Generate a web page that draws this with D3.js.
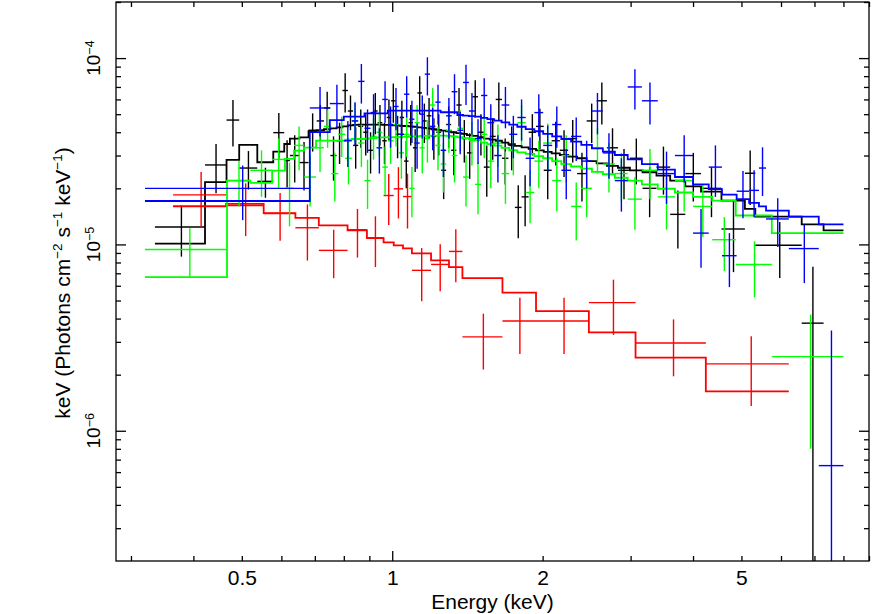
<!DOCTYPE html>
<html>
<head>
<meta charset="utf-8">
<script src="https://cdn.jsdelivr.net/npm/d3@7"></script>
<style>
  body { margin: 0; background: #fff; }
  text { font-family: "Liberation Sans", Arial, Helvetica, sans-serif; fill: #000; }
</style>
</head>
<body>
<svg id="chart" width="872" height="614"></svg>
<script>
// flux values are in units of 1e-5 keV (Photons cm^-2 s^-1 keV^-1)
var UNIT = 1e-5;

// bin edges (keV), data, 1-sigma error and folded model for each data group
var blackEdges = [0.335, 0.422, 0.466, 0.494, 0.537, 0.578, 0.608, 0.624, 0.652, 0.680, 0.706, 0.730, 0.752, 0.774, 0.795, 0.815, 0.835, 0.855, 0.875, 0.895, 0.915, 0.935, 0.955, 0.975, 0.995, 1.015, 1.035, 1.056, 1.078, 1.100, 1.123, 1.147, 1.172, 1.198, 1.225, 1.253, 1.282, 1.312, 1.344, 1.377, 1.411, 1.447, 1.485, 1.525, 1.567, 1.611, 1.658, 1.708, 1.760, 1.815, 1.875, 1.940, 2.010, 2.085, 2.165, 2.250, 2.345, 2.450, 2.565, 2.690, 2.830, 2.990, 3.170, 3.380, 3.600, 3.860, 4.150, 4.560, 5.080, 5.330, 6.600, 7.300, 8.000];
var blackFlux = [1.24, 2.67, 4.65, 2.57, 2.18, 3.98, 2.82, 3.0, 2.75, 4.1, 4.6, 5.4, 3.0, 3.6, 6.7, 5.2, 3.4, 4.3, 4.0, 3.2, 5.2, 4.5, 3.6, 4.8, 5.9, 3.9, 4.8, 2.8, 4.5, 3.3, 6.5, 4.6, 4.9, 3.8, 4.0, 2.5, 4.4, 3.2, 5.6, 3.7, 3.1, 6.2, 4.0, 2.6, 3.8, 6.0, 2.9, 3.4, 1.58, 1.8, 4.0, 4.3, 2.5, 3.6, 3.2, 3.7, 2.4, 4.6, 5.9, 3.3, 2.5, 2.9, 2.0, 2.6, 1.45, 2.4, 2.0, 1.21, 2.41, 0.99, 0.378, null];
var blackErr = [0.38, 0.79, 1.3, 0.6, 0.4, 1.1, 0.8, 0.85, 0.8, 0.95, 1.0, 1.2, 0.8, 0.9, 1.6, 1.1, 0.85, 1.0, 1.0, 0.8, 1.3, 1.1, 0.9, 1.2, 1.4, 1.0, 1.1, 0.8, 1.1, 0.85, 1.5, 1.1, 1.2, 0.95, 1.0, 0.75, 1.1, 0.85, 1.3, 0.95, 0.85, 1.4, 1.0, 0.8, 0.95, 1.4, 0.8, 0.9, 0.5, 0.55, 1.0, 1.05, 0.75, 0.95, 0.9, 0.95, 0.7, 1.1, 1.5, 0.9, 0.75, 0.8, 0.6, 0.75, 0.5, 0.7, 0.6, 0.5, 0.78, 0.33, 0.38, null];
var blackModel = [1.01, 2.16, 2.84, 3.42, 2.76, 3.15, 3.46, 3.70, 3.75, 4.05, 4.10, 4.15, 4.20, 4.25, 4.30, 4.35, 4.38, 4.40, 4.40, 4.40, 4.40, 4.40, 4.38, 4.38, 4.36, 4.35, 4.33, 4.32, 4.30, 4.28, 4.25, 4.22, 4.20, 4.15, 4.12, 4.08, 4.05, 4.00, 3.96, 3.92, 3.86, 3.82, 3.76, 3.70, 3.65, 3.60, 3.52, 3.45, 3.38, 3.32, 3.26, 3.20, 3.14, 3.08, 3.02, 2.96, 2.90, 2.80, 2.72, 2.64, 2.58, 2.50, 2.44, 2.34, 2.20, 2.05, 1.92, 1.72, 1.55, 1.41, 1.28, 1.19];

var redEdges = [0.364, 0.465, 0.553, 0.640, 0.713, 0.814, 0.890, 0.961, 1.007, 1.051, 1.095, 1.196, 1.299, 1.382, 1.662, 1.940, 2.475, 3.069, 4.243, 6.218];
var redFlux = [1.845, 1.618, 1.466, 1.229, 0.929, 1.2, 1.086, 1.83, 1.988, 1.807, 0.726, 0.781, 0.917, 0.319, 0.388, 0.388, 0.487, 0.296, 0.2286];
var redErr = [0.6, 0.51, 0.42, 0.41, 0.27, 0.35, 0.33, 0.56, 0.61, 0.59, 0.23, 0.22, 0.29, 0.106, 0.13, 0.13, 0.16, 0.10, 0.093];
var redModel = [1.603, 1.652, 1.472, 1.390, 1.264, 1.189, 1.081, 1.025, 0.988, 0.952, 0.895, 0.821, 0.756, 0.660, 0.551, 0.439, 0.337, 0.247, 0.1626];

var greenEdges = [0.320, 0.467, 0.520, 0.575, 0.610, 0.636, 0.666, 0.704, 0.730, 0.755, 0.780, 0.805, 0.830, 0.855, 0.880, 0.905, 0.930, 0.955, 0.980, 1.005, 1.030, 1.056, 1.082, 1.108, 1.135, 1.162, 1.190, 1.220, 1.250, 1.282, 1.315, 1.350, 1.386, 1.424, 1.464, 1.506, 1.550, 1.600, 1.655, 1.715, 1.780, 1.850, 1.925, 2.005, 2.090, 2.180, 2.280, 2.390, 2.510, 2.640, 2.790, 2.960, 3.160, 3.400, 3.680, 4.000, 4.370, 4.870, 5.750, 8.000];
var greenFlux = [0.94, 2.2, 2.5, 2.86, 2.0, 3.4, 2.3, 3.3, 4.3, 2.4, 3.9, 2.9, 4.6, 3.5, 2.2, 3.8, 4.0, 2.6, 3.6, 4.4, 3.1, 3.9, 2.0, 4.5, 3.3, 3.7, 5.6, 3.4, 2.7, 4.1, 3.0, 4.2, 2.3, 3.6, 2.1, 3.9, 2.8, 3.5, 2.4, 3.2, 4.5, 1.9, 2.8, 3.5, 2.2, 3.0, 1.6, 2.0, 3.3, 2.7, 2.4, 1.75, 2.5, 1.8, 2.2, 1.6, 1.06, 0.78, 0.25];
var greenErr = [0.28, 0.6, 0.7, 0.85, 0.75, 0.9, 0.7, 0.85, 1.0, 0.7, 0.95, 0.8, 1.1, 0.9, 0.65, 0.95, 1.0, 0.75, 0.9, 1.05, 0.85, 0.95, 0.6, 1.1, 0.9, 0.95, 1.3, 0.9, 0.8, 1.0, 0.85, 1.05, 0.7, 0.95, 0.65, 1.0, 0.8, 0.9, 0.75, 0.85, 1.1, 0.6, 0.8, 0.95, 0.7, 0.85, 0.55, 0.6, 0.9, 0.8, 0.7, 0.55, 0.75, 0.6, 0.7, 0.5, 0.34, 0.26, 0.17];
var greenModel = [0.668, 2.20, 2.14, 2.49, 2.88, 3.19, 3.31, 3.61, 3.61, 3.61, 3.61, 3.65, 3.68, 3.68, 3.70, 3.72, 3.75, 3.75, 3.76, 3.76, 3.78, 3.78, 3.80, 3.80, 3.82, 3.82, 3.84, 3.84, 3.84, 3.82, 3.80, 3.76, 3.72, 3.68, 3.62, 3.52, 3.45, 3.39, 3.30, 3.20, 3.12, 3.06, 2.98, 2.90, 2.80, 2.70, 2.62, 2.55, 2.45, 2.38, 2.28, 2.20, 2.10, 1.99, 1.90, 1.80, 1.72, 1.43, 1.15];

var blueEdges = [0.320, 0.684, 0.750, 0.800, 0.830, 0.855, 0.880, 0.905, 0.930, 0.955, 0.980, 1.005, 1.030, 1.056, 1.082, 1.108, 1.135, 1.162, 1.190, 1.220, 1.250, 1.282, 1.315, 1.350, 1.386, 1.424, 1.464, 1.506, 1.550, 1.600, 1.655, 1.715, 1.780, 1.850, 1.925, 2.005, 2.090, 2.180, 2.280, 2.390, 2.510, 2.640, 2.790, 2.960, 3.160, 3.400, 3.680, 4.000, 4.300, 4.570, 4.890, 5.180, 5.420, 5.600, 6.220, 7.140, 8.000];
var blueFlux = [2.0, 5.4, 5.7, 3.6, 4.6, 7.5, 4.2, 5.1, 3.3, 6.0, 4.4, 5.5, 3.9, 6.4, 4.7, 3.5, 5.0, 8.2, 4.3, 5.8, 3.2, 4.9, 6.6, 4.1, 7.4, 5.2, 3.7, 6.3, 4.5, 3.0, 5.6, 3.9, 4.8, 2.9, 5.1, 3.4, 4.4, 2.5, 3.8, 2.8, 5.2, 3.1, 2.2, 7.0, 5.9, 2.4, 3.0, 1.15, 2.6, 0.87, 1.93, 1.95, 2.57, 1.37, 0.95, 0.065];
var blueErr = [0.65, 1.6, 1.5, 1.0, 1.2, 1.8, 1.1, 1.3, 0.9, 1.5, 1.1, 1.4, 1.0, 1.6, 1.2, 0.95, 1.3, 1.9, 1.1, 1.4, 0.9, 1.2, 1.6, 1.05, 1.8, 1.3, 1.0, 1.5, 1.15, 0.85, 1.4, 1.0, 1.2, 0.85, 1.3, 0.95, 1.1, 0.75, 1.0, 0.8, 1.3, 0.85, 0.7, 1.7, 1.5, 0.75, 0.85, 0.4, 0.8, 0.28, 0.55, 0.55, 0.75, 0.4, 0.33, 0.28];
var blueModel = [1.71, 4.01, 4.65, 4.85, 4.85, 4.85, 5.05, 5.05, 5.05, 5.05, 5.22, 5.22, 5.22, 5.22, 5.22, 5.22, 5.22, 5.22, 5.22, 5.22, 5.12, 5.12, 5.12, 4.95, 4.91, 4.88, 4.85, 4.78, 4.70, 4.62, 4.52, 4.40, 4.28, 4.16, 4.05, 3.92, 3.80, 3.68, 3.56, 3.42, 3.28, 3.15, 3.02, 2.86, 2.70, 2.52, 2.30, 2.10, 1.98, 1.85, 1.75, 1.67, 1.60, 1.52, 1.41, 1.28];

// axis ticks
var xTicks = [0.3, 0.4, 0.5, 0.6, 0.7, 0.8, 0.9, 1, 2, 3, 4, 5, 6, 7, 8, 9];
var xLabels = [0.5, 1, 2, 5];
var yTicks = [3e-7, 4e-7, 5e-7, 6e-7, 7e-7, 8e-7, 9e-7, 1e-6, 2e-6, 3e-6, 4e-6, 5e-6, 6e-6, 7e-6, 8e-6, 9e-6,
              1e-5, 2e-5, 3e-5, 4e-5, 5e-5, 6e-5, 7e-5, 8e-5, 9e-5, 1e-4, 2e-4];
var yDecades = [-6, -5, -4];

var groups = [
  { color: "#000000", edges: blackEdges, flux: blackFlux, err: blackErr, model: blackModel },
  { color: "#ff0000", edges: redEdges, flux: redFlux, err: redErr, model: redModel },
  { color: "#00ff00", edges: greenEdges, flux: greenFlux, err: greenErr, model: greenModel },
  { color: "#0000ff", edges: blueEdges, flux: blueFlux, err: blueErr, model: blueModel }
];

var plotLeft = 116, plotRight = 869, plotTop = 2, plotBottom = 561;
var yMin = 2e-7, yMax = 2e-4;

var svg = d3.select("#chart");

var x = d3.scaleLog().domain([0.28, 9]).range([plotLeft, plotRight]);
var y = d3.scaleLog().domain([yMin, yMax]).range([plotBottom, plotTop]);

svg.append("defs").append("clipPath")
  .attr("id", "plotclip")
  .append("rect")
  .attr("x", plotLeft).attr("y", plotTop)
  .attr("width", plotRight - plotLeft).attr("height", plotBottom - plotTop);

var plot = svg.append("g").attr("clip-path", "url(#plotclip)");

function isDecade(d) {
  var l = Math.log10(d);
  return Math.abs(l - Math.round(l)) < 1e-9;
}

groups.forEach(function(g) {
  var layer = plot.append("g");
  var n = g.edges.length - 1;

  // error crosses
  for (var i = 0; i < n; i++) {
    var f = g.flux[i];
    if (f == null) continue;
    var lo = g.edges[i], hi = g.edges[i + 1];
    var mid = (lo + hi) / 2;
    var e = g.err[i];
    var fLow = Math.max((f - e) * UNIT, yMin / 2);
    layer.append("line")
      .attr("x1", x(lo)).attr("x2", x(hi))
      .attr("y1", y(f * UNIT)).attr("y2", y(f * UNIT))
      .attr("stroke", g.color).attr("stroke-width", 1.4);
    layer.append("line")
      .attr("x1", x(mid)).attr("x2", x(mid))
      .attr("y1", y((f + e) * UNIT)).attr("y2", y(fLow))
      .attr("stroke", g.color).attr("stroke-width", 1.4);
  }

  // folded model as a step line
  var pts = [];
  for (var j = 0; j < n; j++) {
    pts.push([g.edges[j], g.model[j]]);
    pts.push([g.edges[j + 1], g.model[j]]);
  }
  var step = d3.line()
    .x(function(p) { return x(p[0]); })
    .y(function(p) { return y(p[1] * UNIT); });
  layer.append("path")
    .attr("d", step(pts))
    .attr("fill", "none")
    .attr("stroke", g.color)
    .attr("stroke-width", 1.8);
});

// axes with inward ticks on all four sides
function styleAxis(sel, majorLen, sign, horizontal) {
  sel.select(".domain").remove();
  sel.selectAll(".tick line")
    .attr("stroke", "#000").attr("stroke-width", 1.3);
  sel.selectAll(".tick").filter(function(d) { return isDecade(d); })
    .select("line")
    .attr(horizontal ? "y2" : "x2", sign * majorLen);
}

var xBottom = svg.append("g")
  .attr("transform", "translate(0," + plotBottom + ")")
  .call(d3.axisBottom(x).tickValues(xTicks).tickSize(-5).tickSizeOuter(0).tickPadding(9)
    .tickFormat(function(d) { return xLabels.indexOf(d) >= 0 ? String(d) : ""; }));
styleAxis(xBottom, 10, -1, true);
xBottom.selectAll(".tick text")
  .attr("font-size", 21)
  .attr("font-family", "'Liberation Sans', Arial, sans-serif");

var xTop = svg.append("g")
  .attr("transform", "translate(0," + plotTop + ")")
  .call(d3.axisTop(x).tickValues(xTicks).tickSize(-5).tickSizeOuter(0).tickFormat(""));
styleAxis(xTop, 10, 1, true);

var yLeft = svg.append("g")
  .attr("transform", "translate(" + plotLeft + ",0)")
  .call(d3.axisLeft(y).tickValues(yTicks).tickSize(-5).tickSizeOuter(0).tickFormat(""));
styleAxis(yLeft, 10, 1, false);

var yRight = svg.append("g")
  .attr("transform", "translate(" + plotRight + ",0)")
  .call(d3.axisRight(y).tickValues(yTicks).tickSize(-5).tickSizeOuter(0).tickFormat(""));
styleAxis(yRight, 10, -1, false);

svg.append("rect")
  .attr("x", plotLeft).attr("y", plotTop)
  .attr("width", plotRight - plotLeft).attr("height", plotBottom - plotTop)
  .attr("fill", "none").attr("stroke", "#000").attr("stroke-width", 1.3);

// y tick labels: 10^n, rotated
yDecades.forEach(function(p) {
  var t = svg.append("text")
    .attr("transform", "translate(100," + y(Math.pow(10, p)) + ") rotate(-90)")
    .attr("text-anchor", "middle")
    .attr("font-size", 19);
  t.append("tspan").text("10");
  t.append("tspan").attr("font-size", 12.5).attr("dy", -6.5).text("\u2212" + Math.abs(p));
});

// axis titles
svg.append("text")
  .attr("x", (plotLeft + plotRight) / 2).attr("y", 609)
  .attr("text-anchor", "middle")
  .attr("font-size", 21)
  .text("Energy (keV)");

var yt = svg.append("text")
  .attr("transform", "translate(70,283) rotate(-90)")
  .attr("text-anchor", "middle")
  .attr("font-size", 21);
yt.append("tspan").text("keV (Photons cm");
yt.append("tspan").attr("font-size", 13.5).attr("dy", -8).text("\u22122");
yt.append("tspan").attr("dy", 8).text(" s");
yt.append("tspan").attr("font-size", 13.5).attr("dy", -8).text("\u22121");
yt.append("tspan").attr("dy", 8).text(" keV");
yt.append("tspan").attr("font-size", 13.5).attr("dy", -8).text("\u22121");
yt.append("tspan").attr("dy", 8).text(")");
</script>
</body>
</html>
